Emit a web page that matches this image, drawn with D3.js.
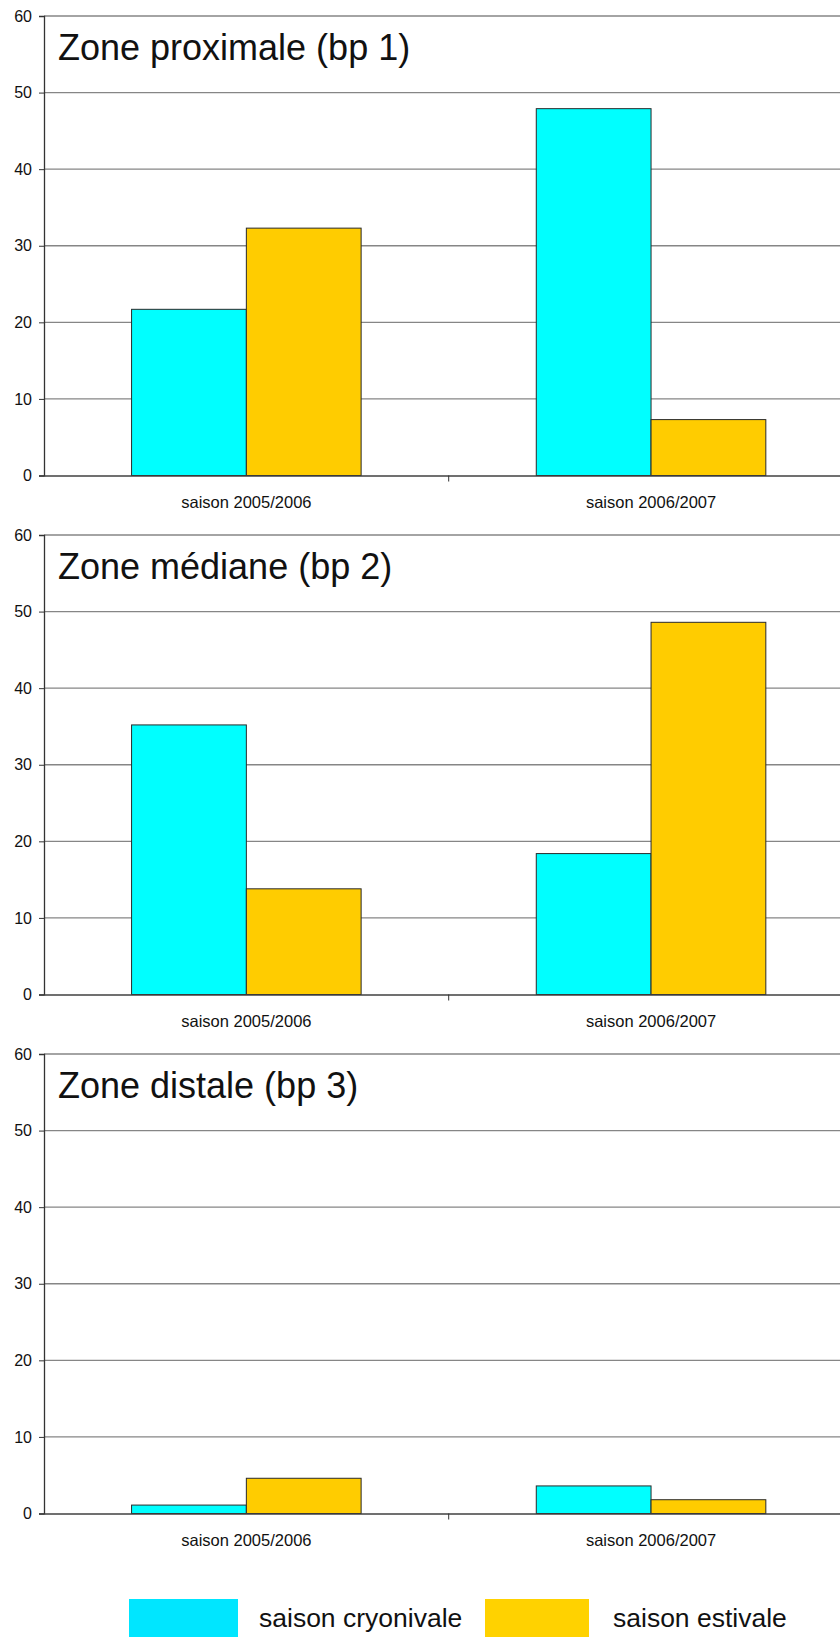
<!DOCTYPE html>
<html>
<head>
<meta charset="utf-8">
<script src="https://cdn.jsdelivr.net/npm/d3@7"></script>
<style>
  html, body { margin: 0; padding: 0; background: #fff; }
  svg { display: block; }
  text { font-family: "Liberation Sans", Arial, sans-serif; }
</style>
</head>
<body>
<svg id="chart" width="840" height="1637"></svg>
<script>
// ---- data ----
const categories = ["saison 2005/2006", "saison 2006/2007"];
const series = ["saison cryonivale", "saison estivale"];
const panelTitles = ["Zone proximale (bp 1)", "Zone médiane (bp 2)", "Zone distale (bp 3)"];
const cryonivale = [
  [21.7, 47.9],
  [35.2, 18.4],
  [1.1, 3.6]
];
const estivale = [
  [32.3, 7.3],
  [13.8, 48.6],
  [4.6, 1.8]
];
const yTicks = [0, 10, 20, 30, 40, 50, 60];

// ---- layout ----
const W = 840, H = 1637;
const svg = d3.select("#chart");
svg.append("rect").attr("width", W).attr("height", H).attr("fill", "#fff");

const barColors = { "saison cryonivale": "#00ffff", "saison estivale": "#ffcc00" };
const legendColors = { "saison cryonivale": "#00e6ff", "saison estivale": "#ffd200" };

const xLeft = 44, xRight = 853.4;
const panelTop = [16, 535, 1054];
const panelH = 459.5;

const x0 = d3.scaleBand().domain(categories).range([xLeft, xRight]).padding(0);
const x1 = d3.scaleBand().domain(series).range([0, x0.bandwidth()]).paddingInner(0).paddingOuter(0.763);

panelTitles.forEach((title, p) => {
  const top = panelTop[p];
  const y = d3.scaleLinear().domain([0, 60]).range([top + panelH, top]);
  const g = svg.append("g");

  // gridlines
  g.selectAll("line.grid").data(yTicks.filter(t => t > 0)).join("line")
    .attr("class", "grid")
    .attr("x1", xLeft).attr("x2", W)
    .attr("y1", d => y(d)).attr("y2", d => y(d))
    .attr("stroke", "#868686").attr("stroke-width", 1.4);

  // title
  g.append("text")
    .attr("x", 58).attr("y", top + 44)
    .attr("font-size", 36).attr("fill", "#111")
    .text(title);

  // bars
  const rows = categories.map((c, i) => ({
    cat: c,
    vals: [
      { s: series[0], v: cryonivale[p][i] },
      { s: series[1], v: estivale[p][i] }
    ]
  }));
  const cg = g.selectAll("g.cat").data(rows).join("g")
    .attr("transform", d => `translate(${x0(d.cat)},0)`);
  cg.selectAll("rect").data(d => d.vals).join("rect")
    .attr("x", d => x1(d.s))
    .attr("y", d => y(d.v))
    .attr("width", x1.bandwidth())
    .attr("height", d => y(0) - y(d.v))
    .attr("fill", d => barColors[d.s])
    .attr("stroke", "#2a2a2a").attr("stroke-width", 1);

  // y axis
  const yAxis = d3.axisLeft(y).tickValues(yTicks).tickSize(5).tickPadding(7).tickFormat(d3.format("d"));
  const ya = g.append("g").attr("transform", `translate(${xLeft},0)`).call(yAxis);
  ya.select(".domain").attr("stroke", "#333").attr("stroke-width", 1.3);
  ya.selectAll(".tick line").attr("stroke", "#333");
  ya.selectAll(".tick text").attr("font-size", 16).attr("fill", "#111")
    .attr("font-family", "'Liberation Sans', Arial, sans-serif");

  // x axis
  const xAxis = d3.axisBottom(x0).tickSize(0).tickPadding(0);
  const xa = g.append("g").attr("transform", `translate(0,${y(0)})`).call(xAxis);
  xa.select(".domain").attr("stroke", "#404040").attr("stroke-width", 1.6);
  xa.selectAll(".tick text").attr("font-size", 16.5).attr("fill", "#111")
    .attr("dy", 0).attr("y", 32)
    .attr("font-family", "'Liberation Sans', Arial, sans-serif");
  // category boundary tick marks
  xa.selectAll("line.sep").data(categories.slice(1)).join("line")
    .attr("class", "sep")
    .attr("x1", d => x0(d)).attr("x2", d => x0(d))
    .attr("y1", 0).attr("y2", 6)
    .attr("stroke", "#333");
});

// ---- legend ----
const legendItems = [
  { s: series[0], bx: 129, bw: 109, tx: 259 },
  { s: series[1], bx: 485, bw: 104, tx: 613 }
];
const lg = svg.append("g");
lg.selectAll("rect").data(legendItems).join("rect")
  .attr("x", d => d.bx).attr("y", 1599).attr("width", d => d.bw).attr("height", 60)
  .attr("fill", d => legendColors[d.s]);
lg.selectAll("text").data(legendItems).join("text")
  .attr("x", d => d.tx).attr("y", 1627)
  .attr("font-size", 26.5).attr("fill", "#111")
  .text(d => d.s);
</script>
</body>
</html>
